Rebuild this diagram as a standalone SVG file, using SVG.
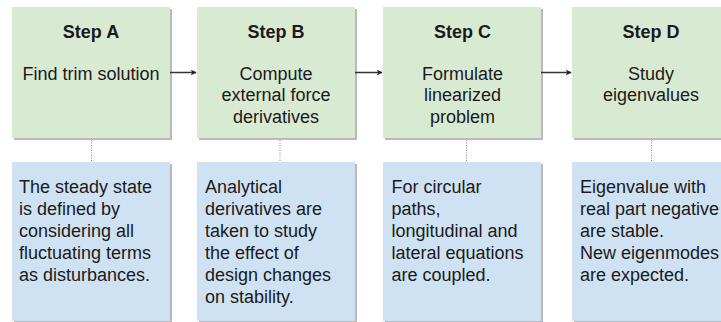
<svg xmlns="http://www.w3.org/2000/svg" width="721" height="322" viewBox="0 0 721 322">
<style>
.sh{fill:#7f7f7f;opacity:0.55}
.g{fill:#d9ead3}
.b{fill:#cfe2f3}
text{font-family:"Liberation Sans",Arial,sans-serif;fill:#1a1a1a}
.t{font-size:18px;font-weight:bold;text-anchor:middle}
.m{font-size:18px;text-anchor:middle}
.n{font-size:18px}
.c{stroke:#333;stroke-width:1.5;fill:none}
.d{stroke:#888;stroke-width:1;stroke-dasharray:1,1.5;fill:none}
</style>
<defs>
<marker id="ah" viewBox="0 0 10 10" refX="9" refY="5" markerWidth="6" markerHeight="6" markerUnits="userSpaceOnUse" orient="auto">
<path d="M0,0 L10,5 L0,10 L3,5 z" fill="#222"/>
</marker>
</defs>
<rect width="721" height="322" fill="#fff"/>
<g id="stepA">
<rect class="sh" x="14" y="9" width="158" height="131"/>
<rect class="g" x="12" y="7" width="158" height="131"/>
<text class="t" x="91" y="37.5">Step A</text>
<text class="m" x="91" y="79.5">Find trim solution</text>
</g>
<g id="stepB">
<rect class="sh" x="199" y="9" width="158" height="131"/>
<rect class="g" x="197" y="7" width="158" height="131"/>
<text class="t" x="276" y="37.5">Step B</text>
<text class="m" x="276" y="79.5">Compute</text>
<text class="m" x="276" y="101">external force</text>
<text class="m" x="276" y="122.5">derivatives</text>
</g>
<g id="stepC">
<rect class="sh" x="385" y="9" width="158" height="131"/>
<rect class="g" x="383" y="7" width="158" height="131"/>
<text class="t" x="462.5" y="37.5">Step C</text>
<text class="m" x="462.5" y="79.5">Formulate</text>
<text class="m" x="462.5" y="101">linearized</text>
<text class="m" x="462.5" y="122.5">problem</text>
</g>
<g id="stepD">
<rect class="sh" x="574" y="9" width="158" height="131"/>
<rect class="g" x="572" y="7" width="158" height="131"/>
<text class="t" x="651" y="37.5">Step D</text>
<text class="m" x="651" y="79.5">Study</text>
<text class="m" x="651" y="101">eigenvalues</text>
</g>
<g id="noteA">
<rect class="sh" x="14" y="164" width="158" height="159"/>
<rect class="b" x="12" y="162" width="158" height="159"/>
<text class="n" x="19" y="192.5">The steady state</text>
<text class="n" x="19" y="214.5">is defined by</text>
<text class="n" x="19" y="236.5">considering all</text>
<text class="n" x="19" y="258.5">fluctuating terms</text>
<text class="n" x="19" y="280.5">as disturbances.</text>
</g>
<g id="noteB">
<rect class="sh" x="199" y="164" width="158" height="159"/>
<rect class="b" x="197" y="162" width="158" height="159"/>
<text class="n" x="205" y="192.5">Analytical</text>
<text class="n" x="205" y="214.5">derivatives are</text>
<text class="n" x="205" y="236.5">taken to study</text>
<text class="n" x="205" y="258.5">the effect of</text>
<text class="n" x="205" y="280.5">design changes</text>
<text class="n" x="205" y="302.5">on stability.</text>
</g>
<g id="noteC">
<rect class="sh" x="385" y="164" width="158" height="159"/>
<rect class="b" x="383" y="162" width="158" height="159"/>
<text class="n" x="391.5" y="192.5">For circular</text>
<text class="n" x="391.5" y="214.5">paths,</text>
<text class="n" x="391.5" y="236.5">longitudinal and</text>
<text class="n" x="391.5" y="258.5">lateral equations</text>
<text class="n" x="391.5" y="280.5">are coupled.</text>
</g>
<g id="noteD">
<rect class="sh" x="574" y="164" width="158" height="159"/>
<rect class="b" x="572" y="162" width="158" height="159"/>
<text class="n" x="580" y="192.5">Eigenvalue with</text>
<text class="n" x="580" y="214.5">real part negative</text>
<text class="n" x="580" y="236.5">are stable.</text>
<text class="n" x="580" y="258.5">New eigenmodes</text>
<text class="n" x="580" y="280.5">are expected.</text>
</g>
<g id="connectors">
<line class="c" x1="170" y1="72.5" x2="196" y2="72.5" marker-end="url(#ah)"/>
<line class="c" x1="355" y1="72.5" x2="382" y2="72.5" marker-end="url(#ah)"/>
<line class="c" x1="541" y1="72.5" x2="571" y2="72.5" marker-end="url(#ah)"/>
<line class="d" x1="91.5" y1="140" x2="91.5" y2="162"/>
<line class="d" x1="280" y1="140" x2="280" y2="162"/>
<line class="d" x1="466.5" y1="140" x2="466.5" y2="162"/>
<line class="d" x1="651.5" y1="140" x2="651.5" y2="162"/>
</g>
</svg>
